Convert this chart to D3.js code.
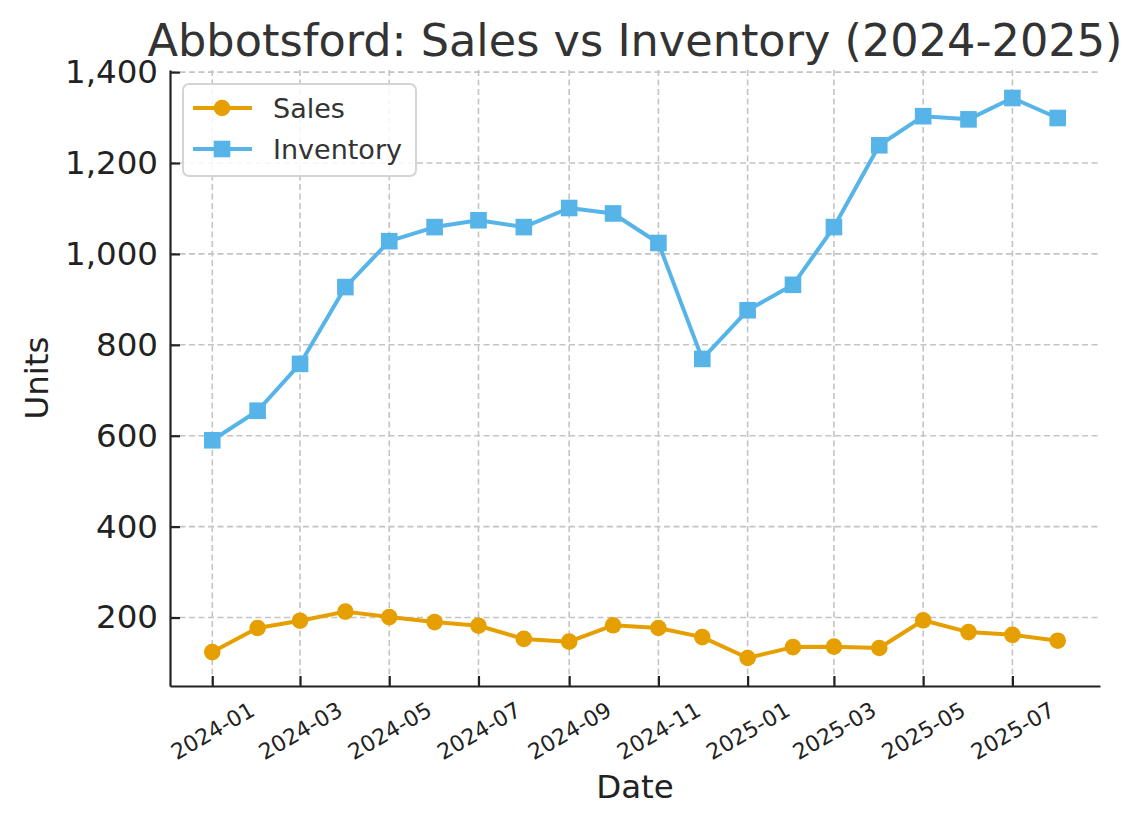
<!DOCTYPE html>
<html>
<head>
<meta charset="utf-8">
<script src="https://cdn.jsdelivr.net/npm/d3@7"></script>
<style>
  html, body { margin: 0; padding: 0; background: #fff; }
  svg { display: block; font-family: "DejaVu Sans", sans-serif; }
</style>
</head>
<body>
<svg id="chart" width="1141" height="824"></svg>
<script>
const months = ["2024-01","2024-02","2024-03","2024-04","2024-05","2024-06","2024-07","2024-08","2024-09","2024-10",
                "2024-11","2024-12","2025-01","2025-02","2025-03","2025-04","2025-05","2025-06","2025-07","2025-08"];
const sales = [124, 177, 193, 213, 201, 190, 182, 153, 147, 183, 177, 157, 111, 135, 136, 133, 194, 168, 162, 149];
const inventory = [590, 655, 758, 927, 1028, 1059, 1074, 1059, 1101, 1089, 1024, 769, 876, 932, 1059, 1239, 1303, 1296, 1343, 1299];
const xTickLabels = ["2024-01","2024-03","2024-05","2024-07","2024-09","2024-11","2025-01","2025-03","2025-05","2025-07"];
const yTicks = [200, 400, 600, 800, 1000, 1200, 1400];
const seriesNames = ["Sales", "Inventory"];
const seriesColors = ["#E69F00", "#56B4E9"];

(function () {
const parse = d3.utcParse("%Y-%m");
const dates = months.map(parse);

const svg = d3.select("#chart");
const mL = 170, mR = 1100, mT = 70, mB = 686;

const t0 = dates[0].getTime(), t1 = dates[dates.length - 1].getTime();
const xPad = (t1 - t0) * 0.05;
const x = d3.scaleUtc().domain([new Date(t0 - xPad), new Date(t1 + xPad)]).range([mL, mR]);

const allVals = sales.concat(inventory);
const yMin = d3.min(allVals), yMax = d3.max(allVals);
const yPad = (yMax - yMin) * 0.05;
const y = d3.scaleLinear().domain([yMin - yPad, yMax + yPad]).range([mB, mT]);

// grid
const grid = svg.append("g");
const xTickDates = xTickLabels.map(parse);
grid.selectAll("line.gx").data(xTickDates).enter().append("line")
  .attr("x1", d => x(d)).attr("x2", d => x(d)).attr("y1", mT).attr("y2", mB)
  .attr("stroke", "#c4c4c4").attr("stroke-width", 1.6).attr("stroke-dasharray", "6,3.5");
grid.selectAll("line.gy").data(yTicks).enter().append("line")
  .attr("x1", mL).attr("x2", mR).attr("y1", d => y(d)).attr("y2", d => y(d))
  .attr("stroke", "#c4c4c4").attr("stroke-width", 1.6).attr("stroke-dasharray", "6,3.5");

// axes
const fmt = d3.format(",");
const yAxis = d3.axisLeft(y).tickValues(yTicks).tickFormat(fmt).tickSizeInner(-10).tickSizeOuter(0).tickPadding(12);
const gy = svg.append("g").attr("transform", `translate(${mL},0)`).call(yAxis);
gy.select(".domain").attr("stroke", "#222").attr("stroke-width", 2.2);
gy.selectAll(".tick line").attr("stroke", "#222").attr("stroke-width", 2.2);
gy.selectAll(".tick text").attr("font-size", 32.5).attr("fill", "#222").attr("font-family", "DejaVu Sans");

const xAxis = d3.axisBottom(x).tickValues(xTickDates).tickFormat(d3.utcFormat("%Y-%m")).tickSizeInner(-10).tickSizeOuter(0);
const gx = svg.append("g").attr("transform", `translate(0,${mB})`).call(xAxis);
gx.select(".domain").attr("stroke", "#222").attr("stroke-width", 2.2);
gx.selectAll(".tick line").attr("stroke", "#222").attr("stroke-width", 2.2);
gx.selectAll(".tick text")
  .attr("font-size", 22).attr("fill", "#222").attr("font-family", "DejaVu Sans")
  .attr("text-anchor", "middle").attr("dy", null).attr("y", 0)
  .attr("dominant-baseline", "central")
  .attr("transform", "translate(0,45) rotate(-30)");

// lines
const seriesData = [sales, inventory];
seriesData.forEach((vals, i) => {
  const pts = vals.map((v, j) => ({d: dates[j], v}));
  svg.append("path").datum(pts)
    .attr("fill", "none").attr("stroke", seriesColors[i]).attr("stroke-width", 4)
    .attr("stroke-linejoin", "round")
    .attr("d", d3.line().x(p => x(p.d)).y(p => y(p.v)));
  if (i === 0) {
    svg.selectAll(null).data(pts).enter().append("circle")
      .attr("cx", p => x(p.d)).attr("cy", p => y(p.v)).attr("r", 8.3).attr("fill", seriesColors[i]);
  } else {
    svg.selectAll(null).data(pts).enter().append("rect")
      .attr("x", p => x(p.d) - 8.3).attr("y", p => y(p.v) - 8.3).attr("width", 16.6).attr("height", 16.6)
      .attr("fill", seriesColors[i]);
  }
});

// title and labels
svg.append("text").attr("x", (mL + mR) / 2).attr("y", 56).attr("text-anchor", "middle")
  .attr("font-size", 44.6).attr("fill", "#333").text("Abbotsford: Sales vs Inventory (2024-2025)");
svg.append("text").attr("x", (mL + mR) / 2).attr("y", 798).attr("text-anchor", "middle")
  .attr("font-size", 32.5).attr("fill", "#222").text("Date");
svg.append("text").attr("transform", `translate(48,${(mT + mB) / 2}) rotate(-90)`).attr("text-anchor", "middle")
  .attr("font-size", 32.5).attr("fill", "#222").text("Units");

// legend
const lg = svg.append("g");
lg.append("rect").attr("x", 183).attr("y", 84).attr("width", 233).attr("height", 92).attr("rx", 6)
  .attr("fill", "white").attr("fill-opacity", 0.85).attr("stroke", "#d4d4d4").attr("stroke-width", 2);
seriesNames.forEach((name, i) => {
  const cy = 108 + i * 41;
  lg.append("line").attr("x1", 193).attr("x2", 252).attr("y1", cy).attr("y2", cy)
    .attr("stroke", seriesColors[i]).attr("stroke-width", 4);
  if (i === 0) lg.append("circle").attr("cx", 222).attr("cy", cy).attr("r", 8.3).attr("fill", seriesColors[i]);
  else lg.append("rect").attr("x", 222 - 8.3).attr("y", cy - 8.3).attr("width", 16.6).attr("height", 16.6).attr("fill", seriesColors[i]);
  lg.append("text").attr("x", 273).attr("y", cy).attr("dominant-baseline", "central")
    .attr("font-size", 27).attr("fill", "#333").text(name);
});
})();
</script>
</body>
</html>
